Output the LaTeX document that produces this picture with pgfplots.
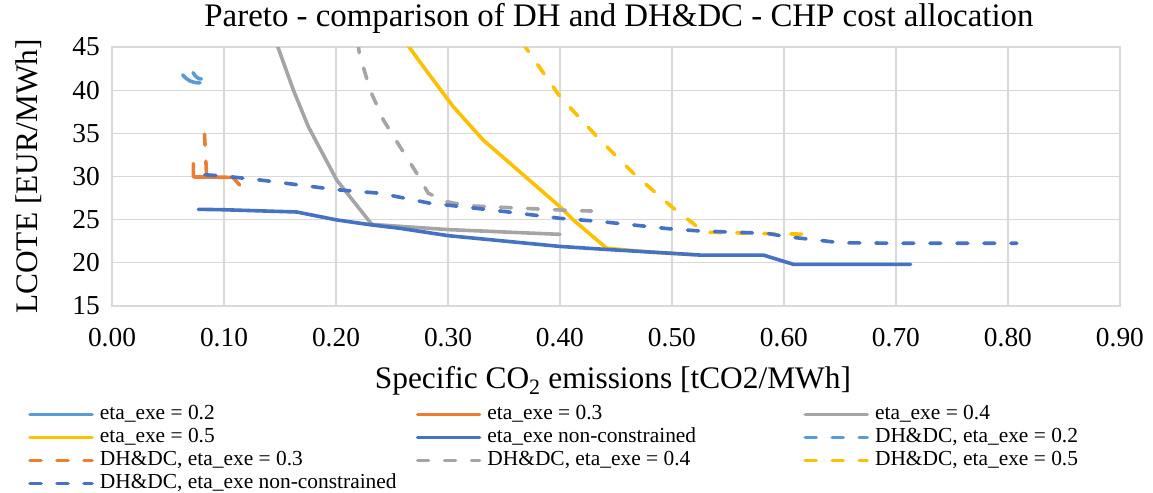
\documentclass[border=0pt]{standalone}
\usepackage{fontspec}
\setmainfont{Liberation Serif}
\usepackage{pgfplots}
\pgfplotsset{compat=1.18}
\definecolor{cA}{HTML}{5B9BD5}
\definecolor{cB}{HTML}{ED7D31}
\definecolor{cC}{HTML}{A5A5A5}
\definecolor{cD}{HTML}{FFC000}
\definecolor{cE}{HTML}{4472C4}
\definecolor{gridc}{HTML}{D9D9D9}
\newcommand{\LE}[1]{\makebox[316bp][l]{#1}}
\begin{document}
\begin{tikzpicture}
\begin{axis}[name=ax, scale only axis, width=1008bp, height=259bp,
  xmin=0, xmax=0.9, ymin=15, ymax=45,
  xtick={0,0.1,0.2,0.3,0.4,0.5,0.6,0.7,0.8,0.9},
  xticklabels={0.00,0.10,0.20,0.30,0.40,0.50,0.60,0.70,0.80,0.90},
  ytick={15,20,25,30,35,40,45},
  yticklabels={15,20,25,30,35,40,45},
  major tick length=0pt,
  grid=major, major grid style={draw=gridc, line width=1.3bp},
  axis line style={draw=gridc, line width=1.3bp},
  ticklabel style={font=\fontsize{27.5}{32}\selectfont, inner sep=0pt},
  xticklabel style={yshift=-22bp},
  yticklabel style={xshift=-12bp},
  xlabel={Specific CO\textsubscript{2} emissions [tCO2/MWh]},
  ylabel={LCOTE [EUR/MWh]},
  label style={font=\fontsize{31.5}{36}\selectfont},
  xlabel style={at={(axis description cs:0.497,-0.29)}, anchor=center},
  ylabel style={at={(axis description cs:-0.083,0.5)}, anchor=center},
  title={Pareto - comparison of DH and DH\&DC - CHP cost allocation},
  title style={at={(axis description cs:0.503,1.058)}, anchor=base, font=\fontsize{33}{38}\selectfont},
  legend columns=3,
  legend image code/.code={\draw[#1] (0bp,0bp) -- (62bp,0bp);},
  legend style={at={(axis description cs:-0.0833,-0.382)}, anchor=north west, draw=none, fill=none,
    inner sep=0pt, row sep=4bp, font=\fontsize{21.5}{24}\selectfont,
    nodes={inner sep=0pt, text height=14bp, text depth=5bp},
    /tikz/every odd column/.append style={column sep=6bp}},
  legend cell align=left,
  every axis plot/.append style={line width=3.6bp, line cap=round, line join=round},
  dsh/.style={dash pattern=on 11bp off 16bp},
]
\addplot[cA] coordinates {(0.0631,41.77) (0.0661,41.38) (0.0696,41.07) (0.0741,40.88) (0.0786,40.84)};
\addlegendentry{\LE{eta\_exe = 0.2}}
\addplot[cB] coordinates {(0.0726,31.5) (0.0726,29.95) (0.108,29.9) (0.114,29.0)};
\addlegendentry{\LE{eta\_exe = 0.3}}
\addplot[cC] coordinates {(0.145,46) (0.1485,44.86) (0.1619,40.03) (0.1753,35.78) (0.2006,29.6) (0.232,24.45) (0.30,23.85) (0.40,23.3)};
\addlegendentry{\LE{eta\_exe = 0.4}}
\addplot[cD] coordinates {(0.262,45.6) (0.266,44.86) (0.278,42.73) (0.3047,38.09) (0.3313,34.24) (0.40,26.5) (0.4119,24.97) (0.4417,21.69) (0.48,21.25) (0.52,20.95)};
\addlegendentry{\LE{eta\_exe = 0.5}}
\addplot[cE] coordinates {(0.0771,26.2) (0.1,26.15) (0.1649,25.89) (0.2006,24.97) (0.2319,24.39) (0.257,24.0) (0.30,23.15) (0.40,21.9) (0.4417,21.55) (0.50,21.1) (0.525,20.9) (0.5815,20.9) (0.6083,19.83) (0.713,19.83)};
\addlegendentry{\LE{eta\_exe non-constrained}}
\addplot[cA, dsh] coordinates {(0.0723,42.03) (0.075,41.57) (0.0777,41.34) (0.0815,41.26)};
\addlegendentry{\LE{DH\&DC, eta\_exe = 0.2}}
\addplot[cB, dsh] coordinates {(0.0826,34.9) (0.0845,30.0) (0.09,29.95)};
\addlegendentry{\LE{DH\&DC, eta\_exe = 0.3}}
\addplot[cC, dsh] coordinates {(0.2195,45.6) (0.2208,44.28) (0.2304,40.03) (0.2423,36.55) (0.2571,33.46) (0.2721,30.38) (0.2824,28.06) (0.2988,27.09) (0.3167,26.62) (0.40,26.12) (0.4283,26.0)};
\addlegendentry{\LE{DH\&DC, eta\_exe = 0.4}}
\addplot[cD, dsh] coordinates {(0.3675,45.6) (0.3688,45.05) (0.40,39.25) (0.4357,34.24) (0.4655,30.38) (0.4997,26.5) (0.5087,25.55) (0.519,24.58) (0.525,23.8) (0.53,23.55) (0.58,23.4) (0.629,23.3)};
\addlegendentry{\LE{DH\&DC, eta\_exe = 0.5}}
\addplot[cE, dsh] coordinates {(0.083,30.2) (0.1,30.05) (0.132,29.6) (0.2006,28.47) (0.2393,28.06) (0.284,26.9) (0.2988,26.7) (0.35,25.95) (0.40,25.16) (0.4357,24.79) (0.501,23.9) (0.525,23.69) (0.5845,23.42) (0.6024,23.03) (0.629,22.65) (0.65,22.33) (0.7036,22.27) (0.808,22.27)};
\addlegendentry{\LE{DH\&DC, eta\_exe non-constrained}}
\end{axis}
\pgfresetboundingbox
\path[use as bounding box] (ax.south west) ++(-112bp,-187bp) rectangle ++(1153bp,493bp);
\end{tikzpicture}
\end{document}
